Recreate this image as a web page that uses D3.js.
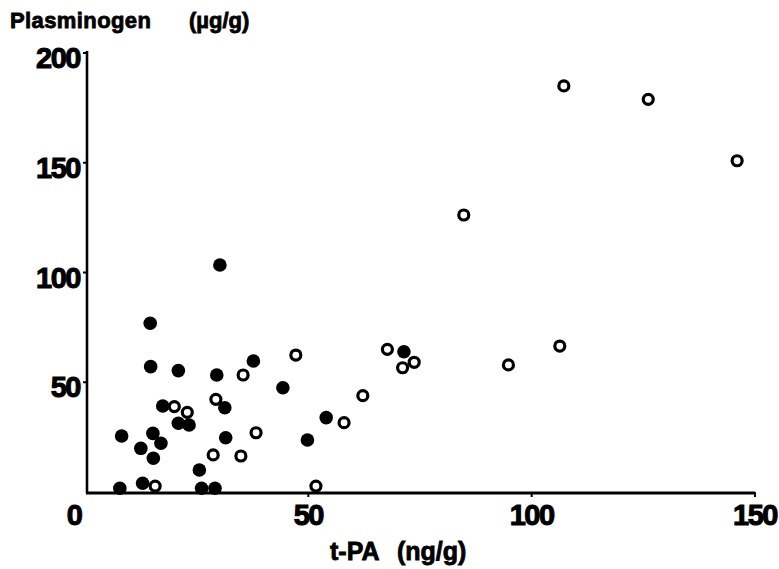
<!DOCTYPE html>
<html>
<head>
<meta charset="utf-8">
<script src="https://cdn.jsdelivr.net/npm/d3@7"></script>
<style>
  body { margin: 0; background: #fff; }
  text { font-family: "Liberation Sans", Arial, sans-serif; font-weight: bold; fill: #000; stroke: #000; }
</style>
</head>
<body>
<svg id="chart" width="779" height="569"></svg>
<script>
"use strict";

// t-PA (ng/g) vs plasminogen (ug/g), filled and open groups
var filledTpa  = [14.6, 14.7, 20.9, 29.5, 37.7, 44.3, 17.4, 20.9, 23.3, 31.3, 8.2, 15.2, 17.0, 12.5, 15.3, 31.5, 25.6, 7.8, 12.9, 26.1, 29.1, 30.2, 54.0, 49.8, 71.4];
var filledPlg  = [76.9, 57.1, 55.3, 53.3, 59.7, 47.5, 39.2, 31.3, 30.5, 38.4, 25.5, 26.7, 22.2, 19.9, 15.4, 24.7, 10.0, 1.7, 4.0, 1.7, 1.7, 103.4, 33.9, 23.7, 63.9];
var openTpa    = [20.0, 22.9, 29.3, 38.3, 28.7, 34.9, 15.7, 35.4, 47.2, 58.0, 51.7, 62.2, 67.7, 71.1, 73.7, 107.2, 126.1, 146.0, 84.8, 106.3, 94.8];
var openPlg    = [38.9, 36.3, 42.2, 27.0, 16.9, 16.4, 2.7, 53.3, 62.4, 31.6, 2.7, 43.9, 65.0, 56.6, 59.1, 185.0, 178.9, 150.9, 126.2, 66.5, 57.9];

var xTicks = [0, 50, 100, 150];
var yTicks = [50, 100, 150, 200];

var svg = d3.select("#chart");

var x = d3.scaleLinear().domain([0, 150]).range([85, 755]);
var y = d3.scaleLinear().domain([0, 200]).range([492, 53]);

function pairs(xs, ys) {
  return xs.map(function(v, i) { return {x: v, y: ys[i]}; });
}

// axes (y axis sits a little right of x = 0, as in the original)
var axisX = x(0) + 2;

svg.append("line")
    .attr("x1", axisX).attr("x2", axisX)
    .attr("y1", y(200) - 2).attr("y2", y(0) + 1)
    .attr("stroke", "#000").attr("stroke-width", 2.6);

svg.append("line")
    .attr("x1", axisX - 1).attr("x2", x(150))
    .attr("y1", y(0) + 1).attr("y2", y(0) + 1)
    .attr("stroke", "#000").attr("stroke-width", 3);

// y ticks and labels
svg.selectAll(".ytick")
    .data(yTicks)
  .enter().append("line")
    .attr("class", "ytick")
    .attr("x1", axisX - 4).attr("x2", axisX)
    .attr("y1", function(d) { return y(d); })
    .attr("y2", function(d) { return y(d); })
    .attr("stroke", "#000").attr("stroke-width", 2);

svg.selectAll(".ylab")
    .data(yTicks)
  .enter().append("text")
    .attr("class", "ylab")
    .attr("x", 80)
    .attr("y", function(d) { return y(d) + 15; })
    .attr("text-anchor", "end")
    .attr("stroke-width", 1)
    .style("font-size", "29px")
    .style("letter-spacing", "-1.5px")
    .text(function(d) { return d; });

// x ticks and labels
svg.selectAll(".xtick")
    .data(xTicks.slice(1))
  .enter().append("line")
    .attr("class", "xtick")
    .attr("x1", function(d) { return x(d); })
    .attr("x2", function(d) { return x(d); })
    .attr("y1", y(0)).attr("y2", y(0) + 5)
    .attr("stroke", "#000").attr("stroke-width", 2);

svg.selectAll(".xlab")
    .data(xTicks)
  .enter().append("text")
    .attr("class", "xlab")
    .attr("x", function(d) { return d === 0 ? x(d) - 11 : x(d); })
    .attr("y", 525)
    .attr("text-anchor", "middle")
    .attr("stroke-width", 1)
    .style("font-size", "29px")
    .style("letter-spacing", "-1.5px")
    .text(function(d) { return d; });

// axis titles
svg.append("text")
    .attr("x", 10).attr("y", 28)
    .attr("stroke-width", 0.8)
    .style("font-size", "22px")
    .style("letter-spacing", "0.4px")
    .text("Plasminogen");

svg.append("text")
    .attr("x", 189).attr("y", 28)
    .attr("stroke-width", 0.8)
    .style("font-size", "22px")
    .text("(\u00b5g/g)");

svg.append("text")
    .attr("x", 330).attr("y", 560)
    .attr("stroke-width", 0.8)
    .style("font-size", "25px")
    .text("t-PA");

svg.append("text")
    .attr("x", 397).attr("y", 560)
    .attr("stroke-width", 0.8)
    .style("font-size", "25px")
    .text("(ng/g)");

// points
svg.selectAll(".filled")
    .data(pairs(filledTpa, filledPlg))
  .enter().append("circle")
    .attr("class", "filled")
    .attr("cx", function(d) { return x(d.x); })
    .attr("cy", function(d) { return y(d.y); })
    .attr("r", 6.8)
    .attr("fill", "#000");

svg.selectAll(".open")
    .data(pairs(openTpa, openPlg))
  .enter().append("circle")
    .attr("class", "open")
    .attr("cx", function(d) { return x(d.x); })
    .attr("cy", function(d) { return y(d.y); })
    .attr("r", 5)
    .attr("fill", "#fff")
    .attr("stroke", "#000")
    .attr("stroke-width", 3.2);
</script>
</body>
</html>
